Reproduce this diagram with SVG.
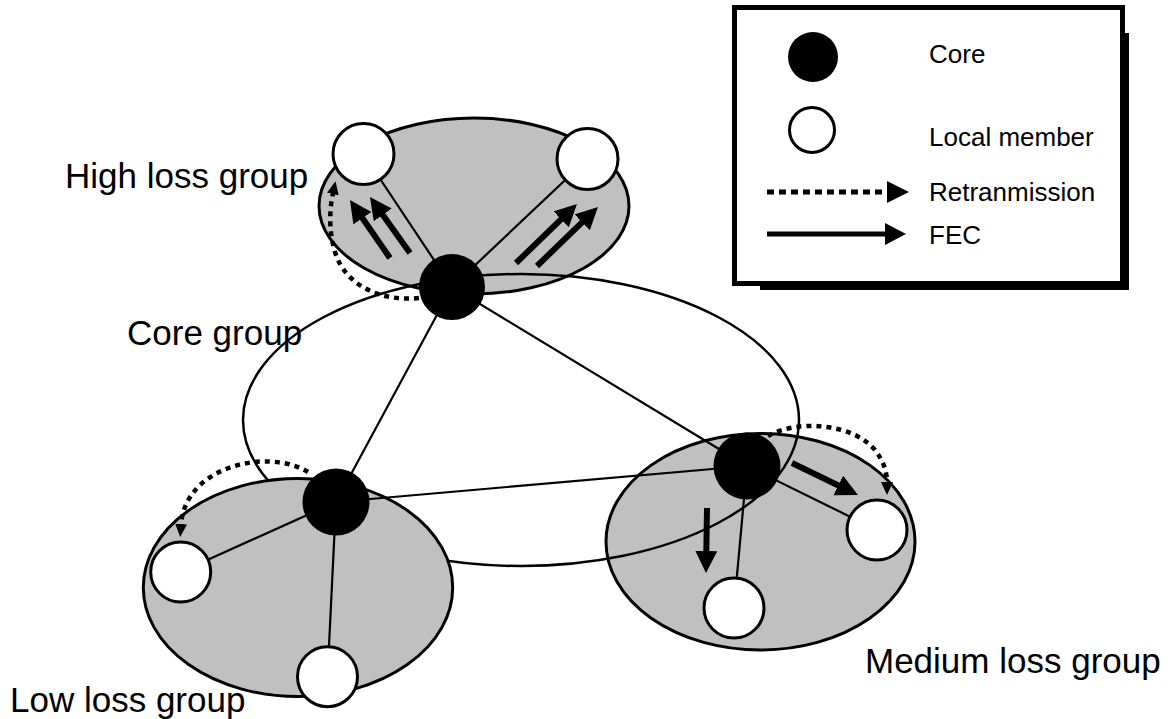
<svg xmlns="http://www.w3.org/2000/svg" width="1175" height="719" viewBox="0 0 1175 719">
  <style>
    .grp { fill: #c0c0c0; stroke: #000; stroke-width: 3; }
    .coregrp { fill: none; stroke: #000; stroke-width: 2.5; }
    .link { stroke: #000; stroke-width: 2.2; fill: none; }
    .core { fill: #000; }
    .member { fill: #fff; stroke: #000; stroke-width: 3; }
    .fec { stroke: #000; stroke-width: 6; fill: none; marker-end: url(#bigHead); }
    .retx { stroke: #000; stroke-width: 4.5; fill: none; stroke-dasharray: 5 5; marker-end: url(#smallHead); }
    .label { font-family: "Liberation Sans", Arial, sans-serif; font-size: 35px; fill: #000; }
    .legend-text { font-family: "Liberation Sans", Arial, sans-serif; font-size: 26px; fill: #000; }
  </style>
  <defs>
    <marker id="bigHead" markerUnits="userSpaceOnUse" markerWidth="24" markerHeight="24" refX="2" refY="11" orient="auto">
      <path d="M0,0 L22,11 L0,22 Z" fill="#000" stroke="none"/>
    </marker>
    <marker id="smallHead" markerUnits="userSpaceOnUse" markerWidth="16" markerHeight="14" refX="1" refY="6" orient="auto">
      <path d="M0,0 L13,6 L0,12 Z" fill="#000" stroke="none"/>
    </marker>
  </defs>

  <rect width="1175" height="719" fill="#fff"/>

  <!-- group areas -->
  <g id="high-loss-group">
    <ellipse class="grp" cx="474" cy="206" rx="155" ry="88"/>
  </g>
  <g id="medium-loss-group">
    <ellipse class="grp" cx="760.5" cy="541.7" rx="154.5" ry="108.3"/>
  </g>
  <g id="core-group">
    <ellipse class="coregrp" cx="521" cy="420" rx="278" ry="146"/>
  </g>
  <g id="low-loss-group">
    <ellipse class="grp" cx="298" cy="587.5" rx="154.7" ry="109"/>
  </g>

  <!-- links and transmission arrows -->
  <g id="connectors">
    <line class="link" x1="452" y1="287" x2="363.5" y2="154"/>
    <line class="link" x1="452" y1="287" x2="587.5" y2="159"/>
    <line class="link" x1="452" y1="287" x2="336" y2="502"/>
    <line class="link" x1="452" y1="287" x2="747" y2="466"/>
    <line class="link" x1="336" y1="502" x2="747" y2="466"/>
    <line class="link" x1="336" y1="502" x2="180.7" y2="572"/>
    <line class="link" x1="336" y1="502" x2="327.5" y2="676.7"/>
    <line class="link" x1="747" y1="466" x2="877" y2="530"/>
    <line class="link" x1="747" y1="466" x2="734" y2="608"/>

    <!-- FEC -->
    <line class="fec" x1="390" y1="258" x2="361.3" y2="216.5"/>
    <line class="fec" x1="410" y1="253" x2="381.6" y2="213.3"/>
    <line class="fec" x1="516" y1="263" x2="562.6" y2="217.9"/>
    <line class="fec" x1="537" y1="266" x2="583.6" y2="220.9"/>
    <line class="fec" x1="792" y1="463" x2="840" y2="486.3"/>
    <line class="fec" x1="707" y1="508" x2="706.3" y2="553"/>

    <!-- retransmission -->
    <path class="retx" d="M419,298 C380,302 345,285 335,252 C329,232 329,212 333,193"/>
    <path class="retx" d="M308,472 C280,455 230,458 200,485 C188,497 182,510 181,525"/>
    <path class="retx" d="M768,436 C800,418 855,425 875,450 C884,462 887,472 887,483"/>
  </g>

  <!-- nodes -->
  <g id="core-high"><circle class="core" cx="452" cy="287" r="33"/></g>
  <g id="core-low"><circle class="core" cx="336" cy="502" r="33.5"/></g>
  <g id="core-medium"><circle class="core" cx="747" cy="466" r="33.5"/></g>
  <g id="member-high-1"><circle class="member" cx="363.5" cy="154" r="30.5"/></g>
  <g id="member-high-2"><circle class="member" cx="587.5" cy="159" r="30.5"/></g>
  <g id="member-low-1"><circle class="member" cx="180.7" cy="572" r="30"/></g>
  <g id="member-low-2"><circle class="member" cx="327.5" cy="676.7" r="30"/></g>
  <g id="member-medium-1"><circle class="member" cx="877" cy="530" r="30"/></g>
  <g id="member-medium-2"><circle class="member" cx="734" cy="608" r="30"/></g>

  <!-- group labels -->
  <g id="labels">
    <text class="label" x="65" y="188">High loss group</text>
    <text class="label" x="127" y="345">Core group</text>
    <text class="label" x="10" y="712">Low loss group</text>
    <text class="label" x="865" y="673">Medium loss group</text>
  </g>

  <!-- legend -->
  <g id="legend">
    <rect x="760" y="33" width="369" height="257" fill="#000"/>
    <rect x="734.5" y="7.5" width="388" height="276" fill="#fff" stroke="#000" stroke-width="5"/>
    <circle cx="813" cy="57" r="25" fill="#000"/>
    <circle cx="812" cy="130" r="22.5" fill="#fff" stroke="#000" stroke-width="3"/>
    <line x1="767" y1="192" x2="887" y2="192" stroke="#000" stroke-width="5" stroke-dasharray="7 5"/>
    <path d="M887,181 L909,192 L887,203 Z" fill="#000"/>
    <line x1="767" y1="234" x2="886" y2="234" stroke="#000" stroke-width="5"/>
    <path d="M885,223 L906,234 L885,245 Z" fill="#000"/>
    <text class="legend-text" x="929" y="63">Core</text>
    <text class="legend-text" x="929" y="146">Local member</text>
    <text class="legend-text" x="929" y="201">Retranmission</text>
    <text class="legend-text" x="929" y="244">FEC</text>
  </g>
</svg>
